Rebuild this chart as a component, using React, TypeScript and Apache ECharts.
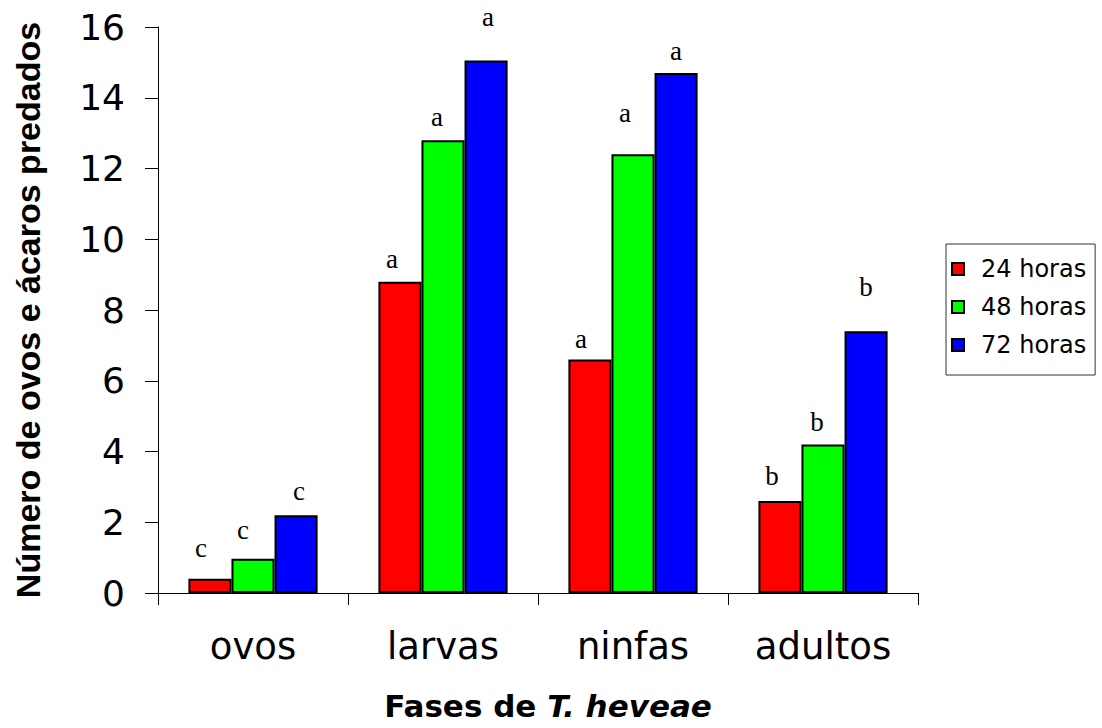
import React, { useEffect, useRef } from "react";
import * as echarts from "echarts";

// ---- data ----
const categories = ["ovos", "larvas", "ninfas", "adultos"];
const seriesNames = ["24 horas", "48 horas", "72 horas"];
const values24 = [0.4, 8.8, 6.6, 2.6];
const values48 = [0.97, 12.8, 12.4, 4.2];
const values72 = [2.2, 15.05, 14.7, 7.4];
const letters24 = ["c", "a", "a", "b"];
const letters48 = ["c", "a", "a", "b"];
const letters72 = ["c", "a", "a", "b"];
const yMin = 0;
const yMax = 16;
const yStep = 2;

// ---- layout (label nudges in px, not data) ----
const nudge24 = [[-9, -31], [-8, -23], [-9, -21], [-8, -25]];
const nudge48 = [[-10, -29], [-6, -23], [-8, -41], [-6, -22]];
const nudge72 = [[3, -24], [2, -44], [0, -22], [0, -44]];

const colors = ["#FF0000", "#00FF00", "#0000FF"];

function makeSeries(name: string, values: number[], letters: string[], nudges: number[][], color: string) {
  return {
    type: "bar",
    name,
    data: values.map((v, i) => ({ value: v, label: { offset: nudges[i] } })),
    barGap: "0%",
    barCategoryGap: "32%",
    itemStyle: { color, borderColor: "#000", borderWidth: 2 },
    emphasis: { disabled: true },
    label: {
      show: true,
      position: "top",
      distance: 0,
      verticalAlign: "middle",
      lineHeight: 20,
      fontFamily: "Liberation Serif",
      fontSize: 27,
      color: "#000",
      formatter: (p: any) => letters[p.dataIndex],
    },
  };
}

export default function App() {
  const ref = useRef<HTMLDivElement>(null);
  useEffect(() => {
    if (!ref.current) return;
    const chart = echarts.init(ref.current, undefined, { renderer: "svg" });
    const sans = "DejaVu Sans";
    chart.setOption({
      animation: false,
      backgroundColor: "#fff",
      grid: { left: 158, right: 184, top: 27, bottom: 135, containLabel: false },
      legend: {
        orient: "vertical",
        left: 946,
        top: 244,
        data: seriesNames,
        icon: "rect",
        itemWidth: 12,
        itemHeight: 12,
        itemGap: 14,
        padding: [13, 9, 18, 5],
        borderColor: "#333",
        borderWidth: 1,
        itemStyle: { borderColor: "#000", borderWidth: 2 },
        textStyle: { fontFamily: sans, fontSize: 24, color: "#000", padding: [0, 0, 0, 12] },
      },
      xAxis: {
        type: "category",
        data: categories,
        axisLine: { show: true, lineStyle: { color: "#000", width: 1 } },
        axisTick: { show: true, length: 12, lineStyle: { color: "#000", width: 1 } },
        axisLabel: { fontFamily: sans, fontSize: 37, color: "#000", margin: 35 },
        name: "{b|Fases de }{i|T. heveae}",
        nameLocation: "middle",
        nameGap: 97,
        nameTextStyle: {
          padding: [0, 0, 0, 20],
          rich: {
            b: { fontFamily: sans, fontWeight: "bold", fontSize: 31, color: "#000" },
            i: { fontFamily: sans, fontWeight: "bold", fontStyle: "italic", fontSize: 31, color: "#000" },
          },
        },
      },
      yAxis: {
        type: "value",
        min: yMin,
        max: yMax,
        interval: yStep,
        splitLine: { show: false },
        axisLine: { show: true, lineStyle: { color: "#000", width: 1 } },
        axisTick: { show: true, length: 13, lineStyle: { color: "#000", width: 1 } },
        axisLabel: { fontFamily: sans, fontSize: 36, color: "#000", margin: 33 },
        name: "Número de ovos e ácaros predados",
        nameLocation: "middle",
        nameGap: 113,
        nameRotate: 90,
        nameTextStyle: { fontFamily: "Liberation Sans", fontWeight: "bold", fontSize: 34, color: "#000" },
      },
      series: [
        makeSeries(seriesNames[0], values24, letters24, nudge24, colors[0]),
        makeSeries(seriesNames[1], values48, letters48, nudge48, colors[1]),
        makeSeries(seriesNames[2], values72, letters72, nudge72, colors[2]),
      ],
    });
    return () => chart.dispose();
  }, []);
  return (
    <div
      ref={ref}
      style={{ position: "fixed", left: 0, top: 0, width: 1102, height: 728, background: "#fff" }}
    />
  );
}
